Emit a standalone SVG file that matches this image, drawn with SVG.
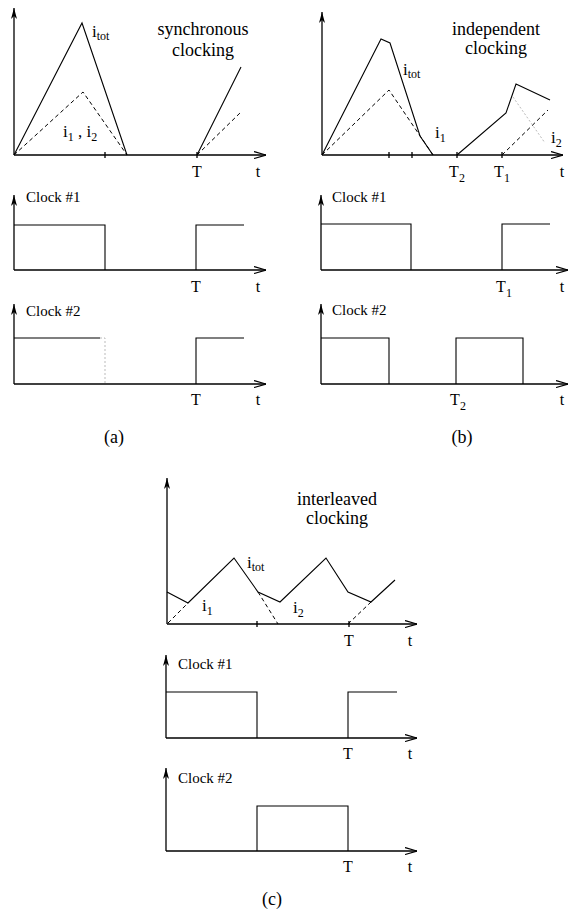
<svg xmlns="http://www.w3.org/2000/svg" width="569" height="912" viewBox="0 0 569 912">
<style>
.ax{fill:none;stroke:#000;stroke-width:1.3;marker-end:url(#ah)}
.ay{fill:none;stroke:#000;stroke-width:1.3;marker-end:url(#ahy)}
.sig{fill:none;stroke:#000;stroke-width:1.1}
.dash{fill:none;stroke:#000;stroke-width:1;stroke-dasharray:4,3}
.faint{fill:none;stroke:#bbb;stroke-width:1;stroke-dasharray:2,2}
.tick{stroke:#000;stroke-width:1.3}
text{font-family:"Liberation Serif","Times New Roman",serif;fill:#000}
.title{font-size:18px;text-anchor:middle}
.clk{font-size:15px}
.lab{font-size:16px;text-anchor:middle}
.cur{font-size:17px}
.sub{font-size:12px}
.cap{font-size:18px;text-anchor:middle}
</style>
<defs>
<marker id="ah" viewBox="0 0 12 8" refX="12" refY="4" markerWidth="12" markerHeight="8" markerUnits="userSpaceOnUse" orient="auto"><path d="M0,0.5 L12,4 L0,7.5" fill="none" stroke="#000" stroke-width="1.2"/></marker>
<marker id="ahy" viewBox="0 0 11 7" refX="11" refY="3.5" markerWidth="11" markerHeight="7" markerUnits="userSpaceOnUse" orient="auto"><path d="M0,0.5 L11,3.5 L0,6.5 L3,3.5 z" fill="#000"/></marker>
</defs>

<!-- Panel (a) -->
<g id="panel-a-current">
<path class="ay" d="M14,155 V8"/>
<path class="ax" d="M14,155 H266"/>
<path class="tick" d="M105,152 V158 M197,152 V158"/>
<path class="sig" d="M14,155 L82,23 L127,155 M197,155 L241,67"/>
<path class="dash" d="M14,155 L83,92 L127,155 M197,155 L241,112"/>
<text class="cur" x="92" y="37">i<tspan class="sub" dy="3">tot</tspan></text>
<text class="title" x="203" y="35">synchronous</text>
<text class="title" x="203" y="56">clocking</text>
<text class="cur" x="63" y="137">i<tspan class="sub" dy="4">1</tspan><tspan dy="-4"> , i</tspan><tspan class="sub" dy="4">2</tspan></text>
<text class="lab" x="197" y="177">T</text>
<text class="lab" x="258" y="177">t</text>
</g>
<g id="panel-a-clock1">
<path class="ay" d="M14,270 V195"/>
<path class="ax" d="M14,270 H266"/>
<path class="sig" d="M14,225 H105 V270 M196,270 V225 H244"/>
<text class="clk" x="26" y="202">Clock #1</text>
<text class="lab" x="196" y="292">T</text>
<text class="lab" x="258" y="292">t</text>
</g>
<g id="panel-a-clock2">
<path class="ay" d="M14,384 V304"/>
<path class="ax" d="M14,384 H266"/>
<path class="sig" d="M14,338 H100 M196,384 V338 H244"/>
<path class="faint" d="M100,338 H105 V384"/>
<text class="clk" x="26" y="316">Clock #2</text>
<text class="lab" x="196" y="405">T</text>
<text class="lab" x="258" y="405">t</text>
<text class="cap" x="114" y="443">(a)</text>
</g>

<!-- Panel (b) -->
<g id="panel-b-current">
<path class="ay" d="M322,155 V12"/>
<path class="ax" d="M322,155 H563"/>
<path class="tick" d="M389,152 V158 M412,152 V158 M457,152 V158 M502,152 V158"/>
<path class="sig" d="M322,155 L381,39 L390,43 L420,136 L433,155 M457,155 L506,113 L516,84 L550,100"/>
<path class="dash" d="M322,155 L389,90 L433,155 M502,155 L548,110"/>
<path class="faint" d="M513,97 L545,143"/>
<text class="title" x="496" y="35">independent</text>
<text class="title" x="496" y="54">clocking</text>
<text class="cur" x="403" y="75">i<tspan class="sub" dy="3">tot</tspan></text>
<text class="cur" x="435" y="138">i<tspan class="sub" dy="4">1</tspan></text>
<text class="cur" x="551" y="143">i<tspan class="sub" dy="4">2</tspan></text>
<text class="lab" x="457" y="177">T<tspan class="sub" dy="5">2</tspan></text>
<text class="lab" x="502" y="177">T<tspan class="sub" dy="5">1</tspan></text>
<text class="lab" x="562" y="177">t</text>
</g>
<g id="panel-b-clock1">
<path class="ay" d="M321,270 V195"/>
<path class="ax" d="M321,270 H568"/>
<path class="sig" d="M321,224 H411 V270 M502,270 V224 H550"/>
<text class="clk" x="332" y="202">Clock #1</text>
<text class="lab" x="504" y="292">T<tspan class="sub" dy="5">1</tspan></text>
<text class="lab" x="562" y="292">t</text>
</g>
<g id="panel-b-clock2">
<path class="ay" d="M321,384 V304"/>
<path class="ax" d="M321,384 H568"/>
<path class="sig" d="M321,338 H389 V384 M456,384 V338 H523 V384"/>
<text class="clk" x="332" y="315">Clock #2</text>
<text class="lab" x="458" y="405">T<tspan class="sub" dy="5">2</tspan></text>
<text class="lab" x="562" y="405">t</text>
<text class="cap" x="462" y="443">(b)</text>
</g>

<!-- Panel (c) -->
<g id="panel-c-current">
<path class="ay" d="M167,624 V478"/>
<path class="ax" d="M167,624 H417"/>
<path class="tick" d="M257,621 V627 M349,621 V627"/>
<path class="sig" d="M167,592 L188,603 L234,558 L258,592 L280,602 L326,558 L348,592 L371,602 L395,580"/>
<path class="dash" d="M168,623 L190,601 M258,592 L278,624 M348,624 L371,602"/>
<text class="title" x="337" y="505">interleaved</text>
<text class="title" x="337" y="524">clocking</text>
<text class="cur" x="247" y="568">i<tspan class="sub" dy="3">tot</tspan></text>
<text class="cur" x="202" y="611">i<tspan class="sub" dy="4">1</tspan></text>
<text class="cur" x="293" y="613">i<tspan class="sub" dy="4">2</tspan></text>
<text class="lab" x="349" y="646">T</text>
<text class="lab" x="410" y="646">t</text>
</g>
<g id="panel-c-clock1">
<path class="ay" d="M166,738 V655"/>
<path class="ax" d="M166,738 H417"/>
<path class="sig" d="M166,692 H257 V738 M348,738 V692 H397"/>
<text class="clk" x="178" y="669">Clock #1</text>
<text class="lab" x="348" y="759">T</text>
<text class="lab" x="410" y="759">t</text>
</g>
<g id="panel-c-clock2">
<path class="ay" d="M166,851 V768"/>
<path class="ax" d="M166,851 H417"/>
<path class="sig" d="M257,851 V806 H348 V851"/>
<text class="clk" x="178" y="783">Clock #2</text>
<text class="lab" x="348" y="872">T</text>
<text class="lab" x="410" y="872">t</text>
<text class="cap" x="272" y="905">(c)</text>
</g>
</svg>
